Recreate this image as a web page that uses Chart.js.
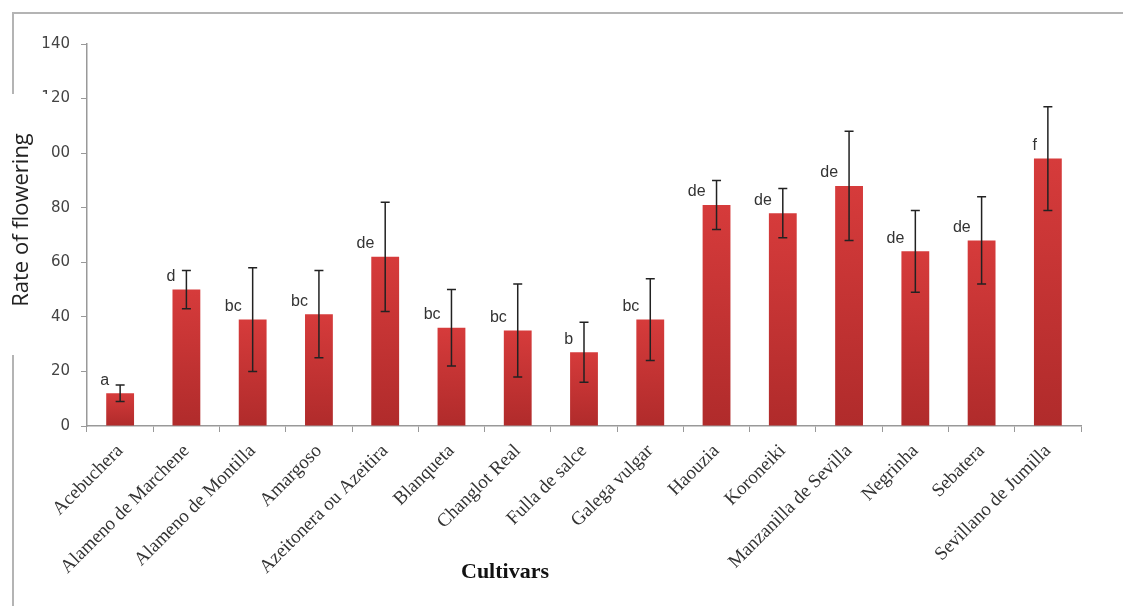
<!DOCTYPE html>
<html>
<head>
<meta charset="utf-8">
<script src="https://cdn.jsdelivr.net/npm/chart.js@4/dist/chart.umd.min.js"></script>
<style>
  html, body { margin: 0; padding: 0; background: #fff; }
  #wrap { width: 1123px; height: 606px; position: relative; }
</style>
</head>
<body>
<div id="wrap"><canvas id="canvas" width="1123" height="606"></canvas></div>
<script>
// data
var cultivars = ["Acebuchera", "Alameno de Marchene", "Alameno de Montilla", "Amargoso",
  "Azeitonera ou Azeitira", "Blanqueta", "Changlot Real", "Fulla de salce", "Galega vulgar",
  "Haouzia", "Koroneiki", "Manzanilla de Sevilla", "Negrinha", "Sebatera", "Sevillano de Jumilla"];
var rates = [12, 50, 39, 41, 62, 36, 35, 27, 39, 81, 78, 88, 64, 68, 98];
var errors = [3, 7, 19, 16, 20, 14, 17, 11, 15, 9, 9, 20, 15, 16, 19];
var letters = ["a", "d", "bc", "bc", "de", "bc", "bc", "b", "bc", "de", "de", "de", "de", "de", "f"];
var yTicks = [0, 20, 40, 60, 80, 100, 120, 140];

var extras = {
    id: "extras",
    afterDatasetsDraw: function(chart) {
        var ctx = chart.ctx;
        var y = chart.scales.y;
        var meta = chart.getDatasetMeta(0);
        ctx.save();
        meta.data.forEach(function(bar, i) {
            var top = y.getPixelForValue(rates[i] + errors[i]);
            var bot = y.getPixelForValue(rates[i] - errors[i]);
            ctx.strokeStyle = "#222";
            ctx.lineWidth = 1.5;
            ctx.beginPath();
            ctx.moveTo(bar.x, top); ctx.lineTo(bar.x, bot);
            ctx.moveTo(bar.x - 4.5, top); ctx.lineTo(bar.x + 4.5, top);
            ctx.moveTo(bar.x - 4.5, bot); ctx.lineTo(bar.x + 4.5, bot);
            ctx.stroke();
            // significance letters
            ctx.fillStyle = "#333";
            ctx.font = "16px 'Liberation Sans', Arial, sans-serif";
            ctx.textAlign = "right";
            ctx.textBaseline = "bottom";
            ctx.fillText(letters[i], bar.x - bar.width / 2 + 3, bar.y - 5);
        });
        ctx.restore();
    },
    afterDraw: function(chart) {
        var ctx = chart.ctx;
        ctx.save();
        // outer frame
        ctx.strokeStyle = "#b4b4b4";
        ctx.lineWidth = 2;
        ctx.beginPath();
        ctx.moveTo(13, 606); ctx.lineTo(13, 13); ctx.lineTo(1123, 13);
        ctx.stroke();
        // white box behind the y title
        ctx.fillStyle = "#fff";
        ctx.fillRect(0, 94, 50, 261);
        ctx.translate(22, 220);
        ctx.rotate(-Math.PI / 2);
        ctx.fillStyle = "#222";
        ctx.font = "22px 'Open Sans', 'Noto Sans', sans-serif";
        ctx.textAlign = "center";
        ctx.textBaseline = "middle";
        ctx.fillText("Rate of flowering", 0, 0);
        ctx.restore();
        ctx.save();
        ctx.fillStyle = "#111";
        ctx.font = "bold 22px 'Liberation Serif', 'Times New Roman', serif";
        ctx.textAlign = "center";
        ctx.textBaseline = "middle";
        ctx.fillText("Cultivars", 505, 572);
        ctx.restore();
    }
};

var ctx = document.getElementById("canvas").getContext("2d");

var barGraph = new Chart(ctx, {
    type: "bar",
    data: {
        labels: cultivars,
        datasets: [{
            label: "Rate of flowering",
            data: rates,
            backgroundColor: function(c) {
                var a = c.chart.chartArea;
                var ys = c.chart.scales.y;
                if (!a || !ys || c.raw === undefined) return "#c83232";
                var g = c.chart.ctx.createLinearGradient(0, ys.getPixelForValue(c.raw), 0, a.bottom);
                g.addColorStop(0, "#d63b3b");
                g.addColorStop(1, "#b02b2b");
                return g;
            },
            barPercentage: 0.42,
            categoryPercentage: 1.0
        }]
    },
    options: {
        responsive: false,
        animation: false,
        layout: { padding: { top: 44, right: 42, left: 0, bottom: 0 } },
        plugins: { legend: { display: false }, tooltip: { enabled: false } },
        scales: {
            x: {
                grid: { display: true, drawOnChartArea: false, offset: true, color: "#999", tickLength: 6 },
                border: { color: "#999", width: 1.5 },
                ticks: {
                    autoSkip: false,
                    minRotation: 45, maxRotation: 45, color: "#333", padding: 8,
                    font: { family: "'Liberation Serif', 'Times New Roman', serif", size: 19 }
                },
                afterFit: function(s) { s.height = 180; }
            },
            y: {
                min: 0, max: 140,
                afterBuildTicks: function(s) { s.ticks = yTicks.map(function(v) { return { value: v }; }); },
                grid: { display: true, drawOnChartArea: false, color: "#999", tickLength: 6 },
                border: { color: "#999", width: 1.5 },
                ticks: {
                    color: "#444", padding: 11,
                    font: { family: "'DejaVu Sans', Verdana, sans-serif", size: 15 }
                },
                afterFit: function(s) { s.width = 87; }
            }
        }
    },
    plugins: [extras]
});
</script>
</body>
</html>
